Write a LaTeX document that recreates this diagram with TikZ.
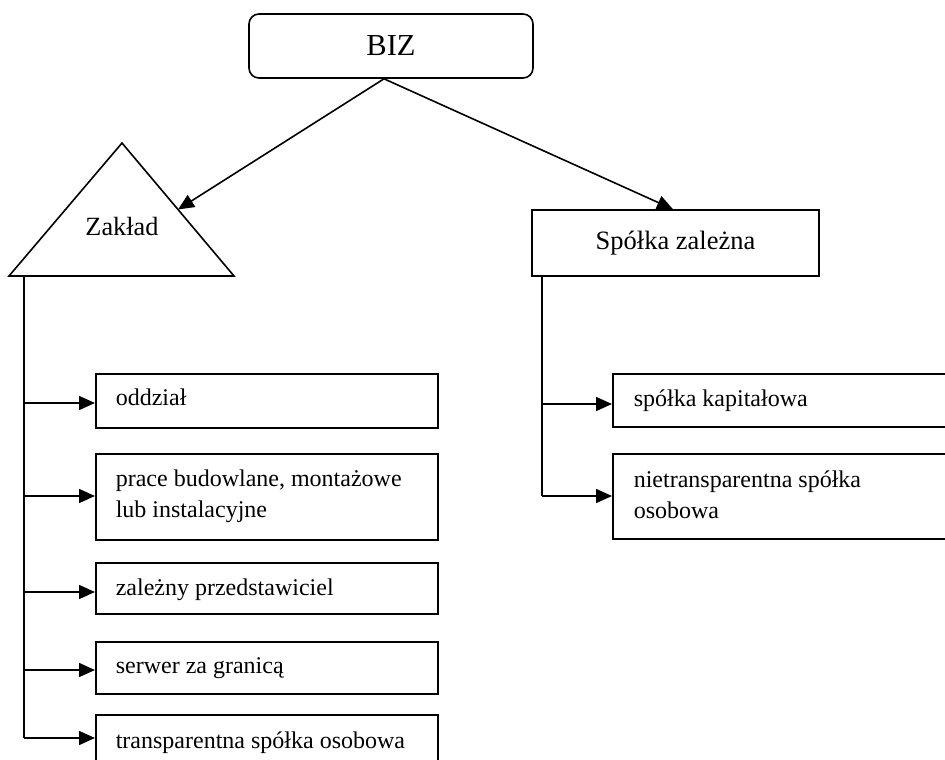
\documentclass[tikz,border=0pt]{standalone}
\usepackage{fontspec}
\setmainfont{Liberation Serif}
\usetikzlibrary{arrows.meta,calc}
\begin{document}
\begin{tikzpicture}[x=1pt,y=-1pt,line width=1.6pt,
  arr/.style={-{Triangle[length=16pt,width=14pt]}},
  boxnode/.style={draw,rectangle,anchor=north west,inner sep=0pt,minimum width=342pt},
  boxtext/.style={anchor=base west,inner sep=0pt,font=\fontsize{24}{31}\selectfont,align=left}]
\useasboundingbox (0,0) rectangle (945,760);
\clip (0,0) rectangle (945,760);
% top
\node[draw,rounded corners=10pt,minimum width=284pt,minimum height=64pt,inner sep=0pt,
  font=\fontsize{30.5}{36}\selectfont] (biz) at (391,46) {BIZ};
% triangle Zaklad
\coordinate (apex) at (122,143);
\coordinate (bl) at (9,276);
\coordinate (br) at (234,276);
\draw (apex) -- (br) -- (bl) -- cycle;
\node[anchor=base,inner sep=0pt,font=\fontsize{26.3}{32}\selectfont] (zak) at (122,235) {Zakład};
\coordinate (zakin) at ($(apex)!0.5!(br)$);
% Spolka zalezna
\node[draw,minimum width=287pt,minimum height=66pt,inner sep=0pt,
  font=\fontsize{26.5}{32}\selectfont] (spz) at (675.5,243) {Spółka zależna};
\coordinate (spzin) at ($(spz.north)+(-2.5,0)$);
\coordinate (bizout) at ($(biz.south)+(-7,0)$);
\draw[arr] (bizout) -- (zakin);
\draw[arr] (bizout) -- (spzin);
% left boxes
\node[boxnode,minimum height=54pt] (b1) at (95,373) {};
\node[boxnode,minimum height=86pt] (b2) at (95,453) {};
\node[boxnode,minimum height=51pt] (b3) at (95,562) {};
\node[boxnode,minimum height=52pt] (b4) at (95,641) {};
\node[boxnode,minimum height=48pt] (b5) at (95,714) {};
\node[boxtext] (t1) at ($(b1.north west)+(20,32)$) {oddział};
\node[boxtext] (t2) at ($(b2.north west)+(20,64)$) {prace budowlane, montażowe\\lub instalacyjne};
\node[boxtext] (t3) at ($(b3.north west)+(20,33)$) {zależny przedstawiciel};
\node[boxtext] (t4) at ($(b4.north west)+(20,32)$) {serwer za granicą};
\node[boxtext] (t5) at ($(b5.north west)+(20,34)$) {transparentna spółka osobowa};
% right boxes
\node[boxnode,minimum height=53pt] (r1) at (612,373) {};
\node[boxnode,minimum height=85pt] (r2) at (612,453) {};
\node[boxtext] (u1) at ($(r1.north west)+(21,33)$) {spółka kapitałowa};
\node[boxtext] (u2) at ($(r2.north west)+(21,65)$) {nietransparentna spółka\\osobowa};
% left trunk
\coordinate (ltop) at (24,276);
\coordinate (lbot) at (24,738);
\draw (ltop) -- (lbot);
\draw[arr] (24,403) -- (b1.west |- 0,403);
\draw[arr] (24,496) -- (b2.west |- 0,496);
\draw[arr] (24,592) -- (b3.west |- 0,592);
\draw[arr] (24,670) -- (b4.west |- 0,670);
\draw[arr] (lbot) -- (b5.west |- lbot);
% right trunk
\coordinate (rtop) at (542,276);
\coordinate (rbot) at (542,496);
\draw (rtop) -- (rbot);
\draw[arr] (542,404) -- (r1.west |- 0,404);
\draw[arr] (rbot) -- (r2.west |- rbot);
\end{tikzpicture}
\end{document}
